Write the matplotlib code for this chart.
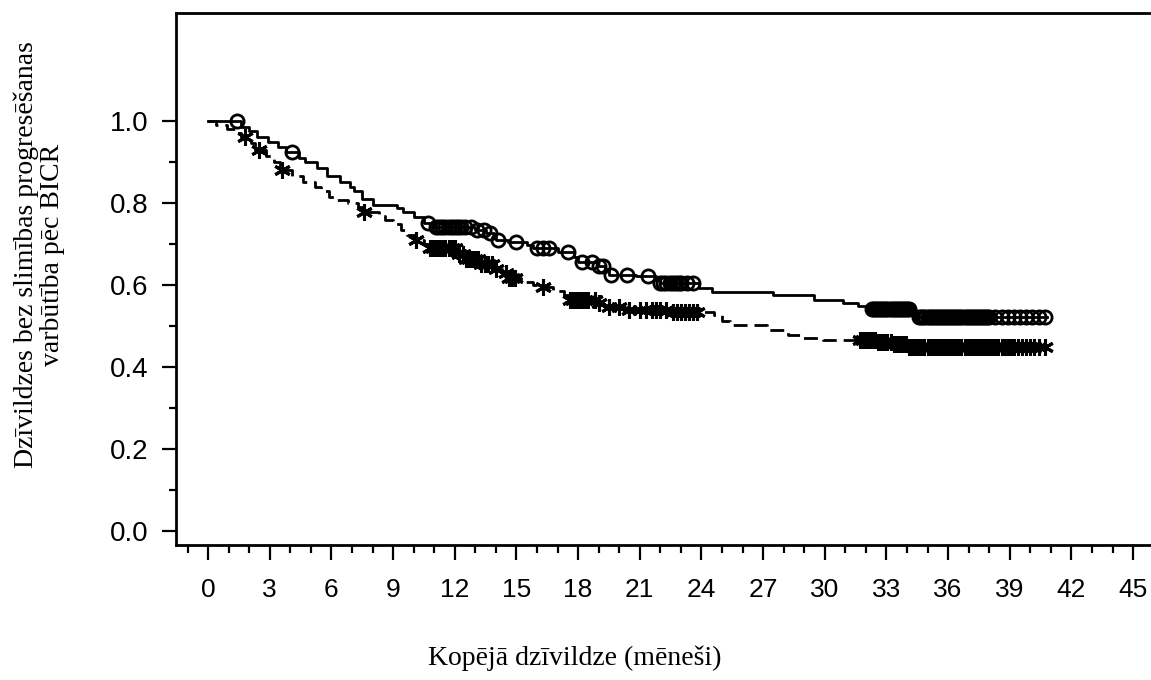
import numpy as np
import matplotlib
matplotlib.use("Agg")
import matplotlib.pyplot as plt
from matplotlib.ticker import MultipleLocator, FixedLocator

# ---- Data ----
# Arm A: solid line, open circle censor marks
step_time_a = [0, 1.6, 2.0, 2.4, 2.9, 3.4, 3.8, 4.4, 4.7, 5.3, 5.8, 6.4, 6.9, 7.1, 7.5, 8.0,
               9.2, 9.5, 10.0, 10.5, 10.9, 13.0, 13.5, 13.9, 14.0, 14.6, 15.5, 15.8, 17.0,
               17.8, 18.0, 18.9, 19.3, 19.5, 20.8, 21.8, 22.0, 23.9, 24.5, 27.5, 29.5, 30.9,
               31.6, 32.2, 34.2, 34.5]
step_surv_a = [1.0, 0.985, 0.975, 0.96, 0.948, 0.937, 0.925, 0.91, 0.9, 0.886, 0.865, 0.852,
               0.84, 0.828, 0.81, 0.796, 0.787, 0.778, 0.766, 0.752, 0.742, 0.735, 0.727,
               0.718, 0.71, 0.705, 0.698, 0.69, 0.68, 0.668, 0.656, 0.647, 0.638, 0.625,
               0.622, 0.612, 0.605, 0.593, 0.583, 0.576, 0.563, 0.556, 0.549, 0.541, 0.532,
               0.522]
censor_a = [1.4, 4.1, 10.7, 11.1, 11.25, 11.4, 11.55, 11.7, 11.85, 12.0, 12.15, 12.3, 12.5,
            12.8, 13.1, 13.4, 13.7, 14.1, 15.0, 16.0, 16.3, 16.6, 17.5, 18.2, 18.7, 19.0,
            19.2, 19.6, 20.4, 21.4, 22.0, 22.15, 22.3, 22.45, 22.6, 22.75, 22.9, 23.0,
            23.3, 23.6,
            32.3, 32.4, 32.5, 32.6, 32.7, 32.8, 32.9, 33.0, 33.1, 33.2, 33.3, 33.4, 33.5,
            33.6, 33.7, 33.8, 33.9, 34.0, 34.1,
            34.6, 34.7, 34.8, 34.9, 35.0, 35.1, 35.2, 35.3, 35.4, 35.5, 35.6, 35.7, 35.8,
            35.9, 36.0, 36.1, 36.2, 36.3, 36.4, 36.5, 36.6, 36.7, 36.8, 36.9, 37.0, 37.1,
            37.2, 37.3, 37.4, 37.5, 37.6, 37.7, 37.8, 37.9, 38.0, 38.3, 38.6, 38.9, 39.2,
            39.5, 39.8, 40.1, 40.4, 40.7]

# Arm B: dashed line, asterisk censor marks
step_time_b = [0, 0.4, 0.9, 1.3, 1.6, 2.1, 2.3, 2.8, 3.2, 3.5, 4.1, 4.6, 5.2, 5.5, 5.9, 6.2,
               6.8, 7.3, 7.5, 8.3, 8.6, 9.0, 9.4, 9.7, 10.0, 10.5, 10.7, 12.2, 12.5, 13.3,
               13.9, 14.3, 14.6, 15.2, 15.8, 16.1, 16.8, 17.3, 17.6, 19.0, 19.5, 20.5, 22.5,
               24.6, 25.0, 25.4, 27.2, 28.2, 28.8, 29.9, 32.5, 33.3, 34.0]
step_surv_b = [1.0, 0.99, 0.98, 0.97, 0.96, 0.945, 0.928, 0.915, 0.9, 0.88, 0.865, 0.852,
               0.84, 0.83, 0.815, 0.806, 0.8, 0.79, 0.778, 0.768, 0.758, 0.748, 0.735, 0.722,
               0.71, 0.7, 0.69, 0.675, 0.663, 0.652, 0.64, 0.628, 0.617, 0.607, 0.6, 0.595,
               0.585, 0.575, 0.563, 0.556, 0.546, 0.54, 0.535, 0.527, 0.513, 0.502, 0.49,
               0.478, 0.47, 0.466, 0.46, 0.455, 0.449]
censor_b = [1.8, 2.5, 3.6, 7.6, 10.1, 10.8, 10.95, 11.1, 11.25, 11.4, 11.55, 11.7, 11.85,
            12.0, 12.2, 12.4, 12.55, 12.7, 12.85, 13.0, 13.15, 13.3, 13.45, 13.6, 13.8,
            14.0, 14.5, 14.65, 14.8, 14.95, 16.3, 17.6, 17.75, 17.9, 18.05, 18.2, 18.35,
            18.5, 18.8, 19.0, 19.5, 20.0, 20.5, 21.0, 21.3, 21.6, 21.8, 22.0, 22.3, 22.6,
            22.8, 23.0, 23.2, 23.4, 23.6, 23.8,
            31.7, 31.85, 32.0, 32.15, 32.3, 32.45, 32.6, 32.75, 32.9, 33.05, 33.2, 33.35,
            33.5, 33.65, 33.8, 33.95,
            34.1, 34.25, 34.4, 34.55, 34.7, 34.85, 35.0, 35.15, 35.3, 35.45, 35.6, 35.75,
            35.9, 36.05, 36.2, 36.35, 36.5, 36.65, 36.8, 36.95, 37.1, 37.25, 37.4, 37.55,
            37.7, 37.85, 38.0, 38.15, 38.3, 38.45, 38.6, 38.75, 38.9, 39.05, 39.2, 39.4,
            39.6, 39.8, 40.0, 40.2, 40.4, 40.7]

end_time = 40.8

x_ticks = list(range(0, 46, 3))
y_ticks = [0.0, 0.2, 0.4, 0.6, 0.8, 1.0]
x_label = "Kopējā dzīvildze (mēneši)"
y_label = "Dzīvildzes bez slimības progresēšanas\nvarbūtība pēc BICR"


def surv_at(times, surv, t):
    idx = np.searchsorted(np.asarray(times), t, side="right") - 1
    return np.asarray(surv)[idx]


fig = plt.figure(figsize=(11.51, 6.80), dpi=100)
ax = fig.add_axes([176 / 1151, 135 / 680, 1 - 176 / 1151, 532 / 680])

lw = 2.0
# Arm A
ta = list(step_time_a) + [end_time]
sa = list(step_surv_a) + [step_surv_a[-1]]
ax.step(ta, sa, where="post", color="black", lw=lw, linestyle="-")
ax.plot(censor_a, surv_at(step_time_a, step_surv_a, censor_a), linestyle="none",
        marker="o", markersize=9.5, markerfacecolor="none", markeredgecolor="black",
        markeredgewidth=2.0)

# Arm B
tb = list(step_time_b) + [end_time]
sb = list(step_surv_b) + [step_surv_b[-1]]
ax.step(tb, sb, where="post", color="black", lw=lw, linestyle=(0, (5, 2.5)))
ax.plot(censor_b, surv_at(step_time_b, step_surv_b, censor_b), linestyle="none",
        marker=(6, 2, 0), markersize=12, markeredgecolor="black", markeredgewidth=2.2)

ax.set_xlim(-1.56, 45.87)
ax.set_ylim(-0.034, 1.263)

ax.spines["right"].set_visible(False)
for s in ["left", "top", "bottom"]:
    ax.spines[s].set_linewidth(2.0)

ax.xaxis.set_major_locator(FixedLocator(x_ticks))
ax.xaxis.set_minor_locator(MultipleLocator(1))
ax.yaxis.set_major_locator(FixedLocator(y_ticks))
ax.yaxis.set_minor_locator(FixedLocator([0.1, 0.3, 0.5, 0.7, 0.9]))
ax.set_xticklabels([str(v) for v in x_ticks])
ax.set_yticklabels([f"{v:.1f}" for v in y_ticks])

ax.tick_params(axis="x", which="major", length=11, width=1.6, pad=13,
               labelsize=19, direction="out", top=False)
ax.tick_params(axis="x", which="minor", length=6, width=1.6, direction="out", top=False)
ax.tick_params(axis="y", which="major", length=10, width=1.6, pad=10,
               labelsize=20, direction="out", right=False)
ax.tick_params(axis="y", which="minor", length=5, width=1.6, direction="out", right=False)
for lab in ax.get_xticklabels() + ax.get_yticklabels():
    lab.set_fontfamily("Liberation Sans")

fig.text(575 / 1151, 1 - 658 / 680, x_label, ha="center", va="center",
         fontsize=20, family="Liberation Serif")
fig.text(39 / 1151, 1 - 255 / 680, y_label, ha="center", va="center", rotation=90,
         fontsize=20, family="Liberation Serif", multialignment="center", linespacing=1.05)

fig.savefig("out.png", dpi=100)
